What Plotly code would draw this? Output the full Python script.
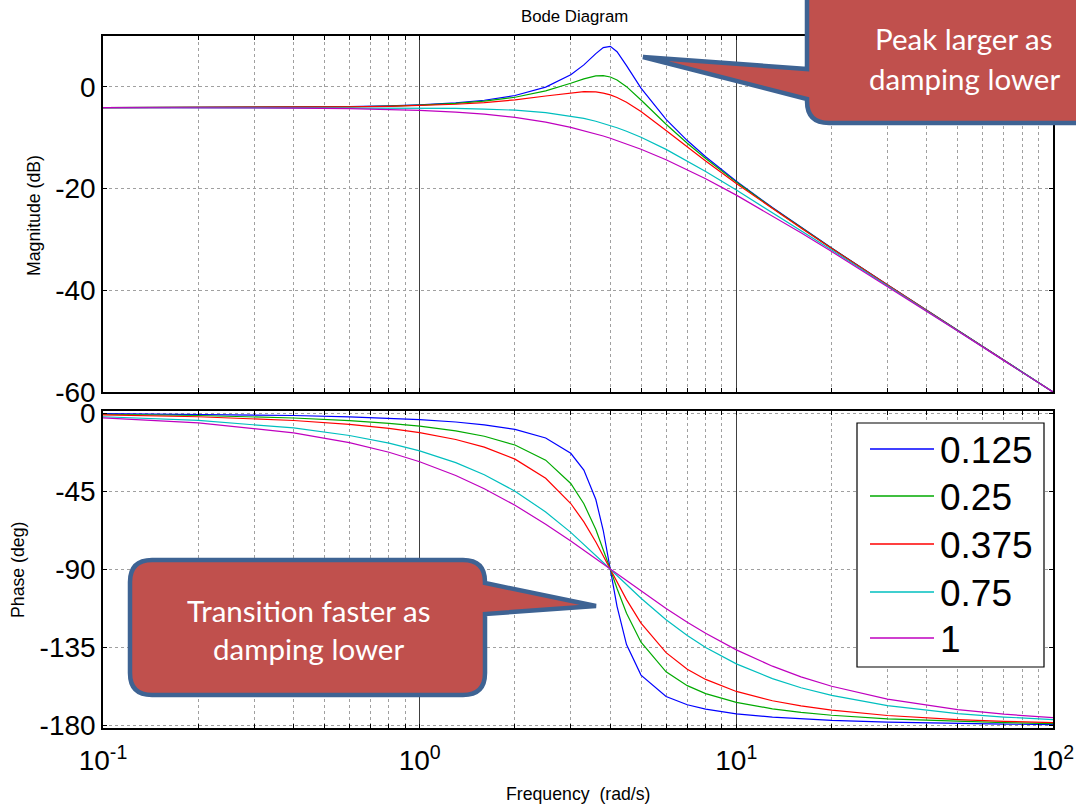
import plotly.graph_objects as go

# ---------------- data ----------------
freq = [0.1, 0.2, 0.4, 0.6, 0.8, 1, 1.3, 1.6, 2, 2.5, 3, 3.3, 3.6, 3.8, 4,
        4.2, 4.5, 5, 6, 7, 8, 10, 13, 16, 20, 30, 50, 70, 100]

damping = ["0.125", "0.25", "0.375", "0.75", "1"]
colors = ["#0000FF", "#00AA00", "#FF0000", "#00BFBF", "#BF00BF"]

mag_0125 = [-4.08, -4.06, -4.00, -3.89, -3.74, -3.54, -3.15, -2.63, -1.70, -0.06, 2.37, 4.32, 6.54, 7.73, 7.96,
            6.92, 4.17, -0.25, -6.40, -10.56, -13.74, -18.55, -23.73, -27.62, -31.70, -38.93, -47.91, -53.78, -59.99]
mag_025 = [-4.08, -4.06, -4.01, -3.91, -3.77, -3.60, -3.25, -2.81, -2.04, -0.79, 0.71, 1.57, 2.14, 2.20, 1.94,
           1.35, 0.04, -2.58, -7.36, -11.09, -14.08, -18.73, -23.82, -27.68, -31.73, -38.95, -47.91, -53.78, -59.99]
mag_0375 = [-4.08, -4.07, -4.02, -3.94, -3.83, -3.69, -3.42, -3.09, -2.55, -1.80, -1.14, -0.94, -1.00, -1.22, -1.58,
            -2.08, -3.02, -4.86, -8.60, -11.85, -14.59, -19.01, -23.97, -27.77, -31.79, -38.97, -47.92, -53.78, -59.99]
mag_075 = [-4.08, -4.09, -4.09, -4.11, -4.13, -4.17, -4.24, -4.36, -4.59, -5.05, -5.72, -6.21, -6.77, -7.18, -7.60,
           -8.05, -8.73, -9.92, -12.29, -14.55, -16.64, -20.28, -24.70, -28.25, -32.09, -39.11, -47.97, -53.81, -60.00]
mag_1 = [-4.09, -4.10, -4.17, -4.28, -4.42, -4.61, -4.95, -5.37, -6.02, -6.95, -7.96, -8.59, -9.24, -9.67, -10.10,
         -10.54, -11.19, -12.26, -14.32, -16.26, -18.06, -21.29, -25.34, -28.69, -32.38, -39.24, -48.01, -53.83, -60.01]

phase_0125 = [-0.36, -0.72, -1.45, -2.20, -2.98, -3.81, -5.19, -6.79, -9.46, -14.38, -23.20, -32.86, -49.82, -67.67, -90.00,
              -111.33, -133.36, -150.95, -163.30, -168.02, -170.54, -173.21, -175.14, -176.19, -177.02, -178.06, -178.85, -179.18, -179.43]
phase_025 = [-0.72, -1.44, -2.89, -4.39, -5.95, -7.60, -10.30, -13.39, -18.43, -27.15, -40.60, -52.25, -67.11, -78.40, -90.00,
             -101.05, -115.28, -131.99, -149.04, -157.01, -161.57, -166.61, -170.36, -172.41, -174.05, -176.12, -177.69, -178.36, -178.85]
phase_0375 = [-1.08, -2.15, -4.33, -6.57, -8.88, -11.31, -15.25, -19.65, -26.57, -37.57, -52.13, -62.70, -74.28, -82.21, -90.00,
              -97.42, -107.47, -120.96, -138.01, -147.53, -153.43, -160.35, -165.70, -168.69, -171.12, -174.19, -176.54, -177.54, -178.28]
phase_075 = [-2.15, -4.30, -8.62, -12.96, -17.35, -21.80, -28.60, -35.54, -45.00, -56.98, -68.75, -75.53, -81.99, -86.09, -90.00,
             -93.72, -98.95, -106.70, -119.05, -128.16, -135.00, -144.46, -152.99, -158.20, -162.65, -168.49, -173.11, -175.09, -176.56]
phase_1 = [-2.86, -5.73, -11.42, -17.06, -22.62, -28.07, -36.01, -43.60, -53.13, -64.01, -73.74, -79.05, -83.97, -87.06, -90.00,
           -92.79, -96.73, -102.68, -112.62, -120.51, -126.87, -136.40, -145.80, -151.93, -157.38, -164.81, -170.85, -173.46, -175.42]

magnitudes = [mag_0125, mag_025, mag_0375, mag_075, mag_1]
phases = [phase_0125, phase_025, phase_0375, phase_075, phase_1]

x_major_vals = [0.1, 1, 10, 100]
x_major_text = ["10<sup>-1</sup>", "10<sup>0</sup>", "10<sup>1</sup>", "10<sup>2</sup>"]
x_minor_vals = [0.2, 0.3, 0.4, 0.5, 0.6, 0.7, 0.8, 0.9,
                2, 3, 4, 5, 6, 7, 8, 9,
                20, 30, 40, 50, 60, 70, 80, 90]
mag_ticks = [-60, -40, -20, 0]
mag_tick_text = ["-60", "-40", "-20", "0"]
phase_ticks = [-180, -135, -90, -45, 0]
phase_tick_text = ["-180", "-135", "-90", "-45", "0"]

title_text = "Bode Diagram"
mag_title = "Magnitude (dB)"
phase_title = "Phase (deg)"
freq_title = "Frequency\u00a0\u00a0(rad/s)"
callout_top = ["Peak larger as", "damping lower"]
callout_bottom = ["Transition faster as", "damping lower"]

# ---------------- layout geometry ----------------
W, H = 1076, 805
L, R, T, B = 103, 23, 36, 77
PW, PH = W - L - R, H - T - B


def px(x, y):
    return (x - L) / PW, (H - B - y) / PH


def path_from(cmds):
    out = []
    for cmd in cmds:
        if cmd[0] in ("M", "L"):
            X, Y = px(cmd[1], cmd[2])
            out.append(f"{cmd[0]}{X:.5f},{Y:.5f}")
        elif cmd[0] == "Q":
            X1, Y1 = px(cmd[1], cmd[2])
            X2, Y2 = px(cmd[3], cmd[4])
            out.append(f"Q{X1:.5f},{Y1:.5f} {X2:.5f},{Y2:.5f}")
        elif cmd[0] == "Z":
            out.append("Z")
    return " ".join(out)


fig = go.Figure()

for name, col, m, p in zip(damping, colors, magnitudes, phases):
    fig.add_trace(go.Scatter(x=freq, y=m, mode="lines", name=name, line=dict(color=col, width=1.2),
                             xaxis="x", yaxis="y", showlegend=False))
    fig.add_trace(go.Scatter(x=freq, y=p, mode="lines", name=name, line=dict(color=col, width=1.2),
                             xaxis="x2", yaxis="y2", showlegend=False))

tick_font = dict(family="Liberation Sans, Arial, sans-serif", size=28, color="black")
axis_common = dict(showline=True, linecolor="black", linewidth=1.5, mirror="ticks",
                   ticks="inside", ticklen=4, tickcolor="black", zeroline=False)
x_minor = dict(tickvals=x_minor_vals, ticks="inside", ticklen=4, tickcolor="black",
               showgrid=True, gridcolor="#a0a0a0", griddash="dot", gridwidth=1)
y_grid = dict(showgrid=True, gridcolor="#a0a0a0", griddash="dot", gridwidth=1)
x_grid = dict(showgrid=True, gridcolor="#404040", griddash="solid", gridwidth=1)

top_dom = [(H - B - 392) / PH, 1.0]
bot_dom = [0.0, (H - B - 411) / PH]

fig.update_layout(
    width=W, height=H,
    autosize=False,
    margin=dict(l=L, r=R, t=T, b=B, autoexpand=False),
    paper_bgcolor="white", plot_bgcolor="white",
    showlegend=False,
    xaxis=dict(type="log", range=[-1, 2], domain=[0, 1], anchor="y", automargin=False,
               tickvals=x_major_vals, ticktext=x_major_text, showticklabels=False,
               minor=x_minor, **x_grid, **axis_common),
    yaxis=dict(range=[-60, 10], domain=top_dom, anchor="x", tickvals=mag_ticks, ticktext=mag_tick_text,
               automargin=False, tickfont=tick_font, ticklabelstandoff=0, **y_grid, **axis_common),
    xaxis2=dict(type="log", range=[-1, 2], domain=[0, 1], anchor="y2", automargin=False,
                tickvals=x_major_vals, ticktext=x_major_text, ticklabelstandoff=7,
                tickfont=tick_font, minor=x_minor, **x_grid, **axis_common),
    yaxis2=dict(range=[-181.4, 1.15], domain=bot_dom, anchor="x2", tickvals=phase_ticks,
                ticktext=phase_tick_text, tickfont=tick_font, ticklabelstandoff=0,
                automargin=False, **y_grid, **axis_common),
)

shapes = []
annotations = []

# legend box (manual)
lx0, ly0 = px(857, 423)
lx1, ly1 = px(1044, 667)
shapes.append(dict(type="rect", xref="paper", yref="paper", x0=lx0, x1=lx1, y0=ly1, y1=ly0,
                   fillcolor="white", line=dict(color="black", width=1.2), layer="above"))
legend_rows = [449, 496, 544, 592, 638]
for name, col, yy in zip(damping, colors, legend_rows):
    a0, b0 = px(870, yy)
    a1, _ = px(934, yy)
    shapes.append(dict(type="line", xref="paper", yref="paper", x0=a0, x1=a1, y0=b0, y1=b0,
                       line=dict(color=col, width=1.5), layer="above"))
    tx, ty = px(938, yy + 1)
    annotations.append(dict(xref="paper", yref="paper", x=tx, y=ty, text=name, showarrow=False,
                            xanchor="left", yanchor="middle",
                            font=dict(family="Liberation Sans, Arial, sans-serif", size=37, color="black")))

# callouts
fill_c = "#C0504D"
edge_c = "#3E6393"
r = 22
bl, bt, br, bb = 130, 560, 485, 695
bottom_path = path_from([
    ("M", bl + r, bt), ("L", br - r, bt), ("Q", br, bt, br, bt + r),
    ("L", br, 583), ("L", 596, 606), ("L", br, 614),
    ("L", br, bb - r), ("Q", br, bb, br - r, bb),
    ("L", bl + r, bb), ("Q", bl, bb, bl, bb - r),
    ("L", bl, bt + r), ("Q", bl, bt, bl + r, bt), ("Z",)])
shapes.append(dict(type="path", xref="paper", yref="paper", path=bottom_path,
                   fillcolor=fill_c, line=dict(color=edge_c, width=4.5), layer="above"))

# top callout: filled body clipped at the figure edges, outline drawn only on the visible edges
tl, tb = 807, 123
top_fill = path_from([
    ("M", tl, 0), ("L", tl, 69), ("L", 643, 57), ("L", tl, 99),
    ("L", tl, tb - r), ("Q", tl, tb, tl + r, tb),
    ("L", W, tb), ("L", W, 0), ("Z",)])
shapes.append(dict(type="path", xref="paper", yref="paper", path=top_fill,
                   fillcolor=fill_c, line=dict(width=0), layer="above"))
top_edge = path_from([
    ("M", tl, 0), ("L", tl, 69), ("L", 643, 57), ("L", tl, 99),
    ("L", tl, tb - r), ("Q", tl, tb, tl + r, tb), ("L", W, tb)])
shapes.append(dict(type="path", xref="paper", yref="paper", path=top_edge,
                   fillcolor="rgba(0,0,0,0)", line=dict(color=edge_c, width=4.5), layer="above"))

callout_font = dict(family="Lato, Open Sans, sans-serif", size=29.5, color="white")
for txt, (cx, cy) in zip(callout_top, [(964, 38), (964, 78)]):
    X, Y = px(cx, cy)
    annotations.append(dict(xref="paper", yref="paper", x=X, y=Y, text=txt, showarrow=False,
                            xanchor="center", yanchor="middle", font=callout_font))
for txt, (cx, cy) in zip(callout_bottom, [(308, 610), (308, 648)]):
    X, Y = px(cx, cy)
    annotations.append(dict(xref="paper", yref="paper", x=X, y=Y, text=txt, showarrow=False,
                            xanchor="center", yanchor="middle", font=callout_font))

# titles
title_font = dict(family="Liberation Sans, Arial, sans-serif", size=16.8, color="black")
label_font = dict(family="Liberation Sans, Arial, sans-serif", size=17.7, color="black")
X, Y = px(574, 17)
annotations.append(dict(xref="paper", yref="paper", x=X, y=Y, text=title_text, showarrow=False,
                        xanchor="center", yanchor="middle", font=title_font))
X, Y = px(34, 216)
annotations.append(dict(xref="paper", yref="paper", x=X, y=Y, text=mag_title, showarrow=False,
                        textangle=-90, xanchor="center", yanchor="middle", font=label_font))
X, Y = px(18, 570)
annotations.append(dict(xref="paper", yref="paper", x=X, y=Y, text=phase_title, showarrow=False,
                        textangle=-90, xanchor="center", yanchor="middle", font=label_font))
X, Y = px(578, 794)
annotations.append(dict(xref="paper", yref="paper", x=X, y=Y, text=freq_title, showarrow=False,
                        xanchor="center", yanchor="middle", font=label_font))

fig.update_layout(shapes=shapes, annotations=annotations)
fig.write_html("out.html", config={"displayModeBar": False},
               post_script="document.body.style.margin='0';document.body.style.overflow='hidden';")
